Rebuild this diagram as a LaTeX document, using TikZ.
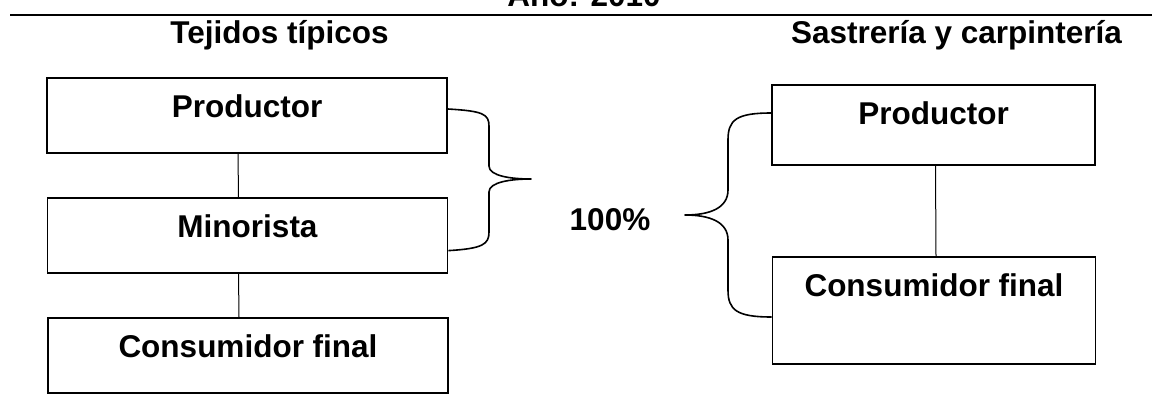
\documentclass[tikz,border=0pt]{standalone}
\usepackage{fontspec}
\setmainfont{Liberation Sans}
\usetikzlibrary{calc}
\tikzstyle{caja}=[draw,line width=1.6pt,anchor=north,inner ysep=18pt,text height=22pt,font=\fontsize{31.5}{36}\selectfont\bfseries]
\tikzstyle{titulo}=[anchor=base,inner sep=0pt,font=\fontsize{31.5}{36}\selectfont\bfseries]
\tikzstyle{llave}=[line width=1.6pt,line join=round]
\tikzstyle{enlace}=[line width=1pt]

\begin{document}
\begin{tikzpicture}[x=1pt,y=-1pt]
\useasboundingbox (0,0) rectangle (1152,413);
\clip (0,0) rectangle (1152,413);
% encabezado
\node[titulo] (anio) at (584,6) {Año: 2010};
\coordinate (rayaIzq) at (10,15);
\coordinate (rayaDer) at (1152,15);
\draw[line width=2pt] (rayaIzq) -- (rayaDer);
\node[titulo] (tejidos) at (279.5,43) {Tejidos típicos};
\node[titulo] (sastreria) at (956.5,43) {Sastrería y carpintería};

% tejidos tipicos
\node[caja,minimum width=400pt,text depth=17pt] (prodA) at (247,77) {Productor};
\node[caja,minimum width=400pt,text depth=17pt] (minA) at (247.5,197) {Minorista};
\node[caja,minimum width=400pt,text depth=17pt] (consA) at (248,317) {Consumidor final};
\draw[enlace] ([xshift=-9pt]prodA.south) -- ([xshift=-9pt]minA.north);
\draw[enlace] ([xshift=-9pt]minA.south) -- ([xshift=-9pt]consA.north);

% sastreria y carpinteria
\node[caja,minimum width=323pt,text depth=22pt] (prodB) at (933.5,84) {Productor};
\node[caja,minimum width=323pt,text depth=49pt] (consB) at (934,256) {Consumidor final};
\draw[enlace] ([xshift=2pt]prodB.south) -- ([xshift=2pt]consB.north);

% llaves
\node[titulo] (porcentaje) at (610,230) {100\%};
\coordinate (puntaA) at (531,179);
\coordinate (puntaB) at (685,215);
\draw[llave] ([yshift=-32pt]prodA.north east) .. controls +(35,2) and +(0,-12) .. (489,126) -- (489,166)
  .. controls +(0,10) and +(-20,0) .. (puntaA) .. controls +(-20,0) and +(0,-10) .. (489,192) -- (489,232)
  .. controls +(0,12) and +(35,-2) .. ([yshift=23pt]minA.south east);
\draw[llave] ([yshift=-29pt]prodB.north west) .. controls +(-35,0) and +(0,-20) .. (728,140) -- (728,190)
  .. controls +(0,18) and +(25,0) .. (puntaB) .. controls +(25,0) and +(0,-18) .. (728,240) -- (728,290)
  .. controls +(0,20) and +(-35,0) .. ([yshift=-61pt]consB.north west);
\end{tikzpicture}
\end{document}
